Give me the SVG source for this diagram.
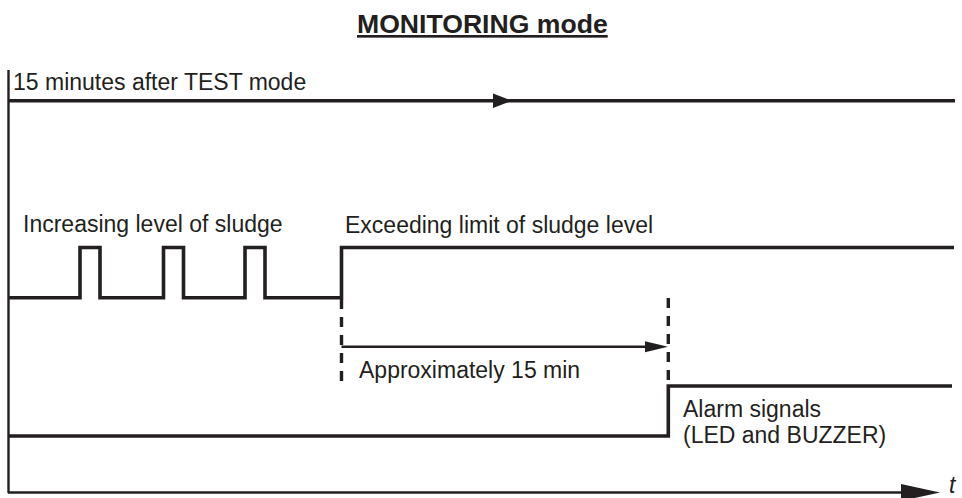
<svg xmlns="http://www.w3.org/2000/svg" width="962" height="498" viewBox="0 0 962 498">
<style>
text{font-family:"Liberation Sans",Arial,sans-serif;font-size:23px;fill:#231f20}
.title{font-weight:bold;font-size:26.6px;text-decoration:underline}
.sig{fill:none;stroke:#231f20;stroke-width:3.6;stroke-linejoin:miter;stroke-linecap:butt}
.thin{fill:none;stroke:#231f20;stroke-width:2.4}
.dash{fill:none;stroke:#231f20;stroke-width:3.4;stroke-dasharray:10 8}
.head{fill:#231f20}
</style>
<rect width="962" height="498" fill="#ffffff"/>
<g id="title"><text class="title" x="357" y="33">MONITORING mode</text></g>
<g id="axes">
<line class="thin" x1="8.5" y1="70" x2="8.5" y2="493"/>
<line class="thin" x1="8" y1="492.5" x2="905" y2="492.5"/>
<polygon class="head" points="901,484 940,492.5 901,501"/>
<text x="949" y="493" font-style="italic">t</text>
</g>
<g id="test-line">
<text x="13" y="90">15 minutes after TEST mode</text>
<line class="sig" x1="8" y1="100.7" x2="955" y2="100.7"/>
<polygon class="head" points="493,93.5 512,100.7 493,107.9"/>
</g>
<g id="sludge-line">
<text x="23" y="232">Increasing level of sludge</text>
<text x="345" y="233">Exceeding limit of sludge level</text>
<polyline class="sig" points="8,297.7 80,297.7 80,247.5 100,247.5 100,297.7 163.5,297.7 163.5,247.5 183.5,247.5 183.5,297.7 245,297.7 245,247.5 265,247.5 265,297.7 341.5,297.7 341.5,247.5 954,247.5"/>
</g>
<g id="alarm-line">
<text x="683" y="417">Alarm signals</text>
<text x="683" y="443">(LED and BUZZER)</text>
<polyline class="sig" points="8,436 668.3,436 668.3,386 952,386"/>
</g>
<g id="connectors">
<line class="dash" x1="341.5" y1="299" x2="341.5" y2="388"/>
<line class="dash" x1="668.3" y1="298" x2="668.3" y2="386"/>
<line class="thin" x1="341.5" y1="346.8" x2="648" y2="346.8"/>
<polygon class="head" points="645,341.3 668,346.8 645,352.3"/>
<text x="359" y="378">Approximately 15 min</text>
</g>
</svg>
